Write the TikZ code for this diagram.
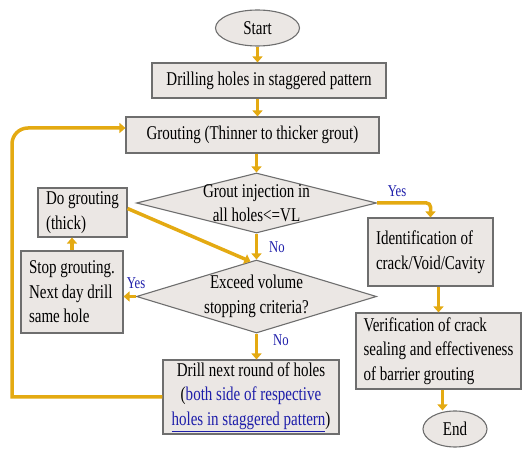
\documentclass[tikz,border=0pt]{standalone}
\usepackage{fontspec}
\setmainfont{Liberation Serif}[FakeStretch=0.77]
\usetikzlibrary{shapes.geometric,arrows.meta}
\definecolor{boxfill}{RGB}{235,231,228}
\definecolor{boxline}{RGB}{110,110,110}
\definecolor{arrgold}{RGB}{228,170,18}
\definecolor{lblue}{RGB}{30,30,170}
\begin{document}
\begin{tikzpicture}[x=1pt,y=-1pt,
  txt/.style={font=\fontsize{19.5}{24.5}\selectfont},
  box/.style={draw=boxline,fill=boxfill,line width=1.1pt,inner sep=0pt,txt},
  rbox/.style={box,rectangle},
  ebox/.style={box,ellipse},
  dbox/.style={box,diamond},
  arr/.style={draw=arrgold,line width=3.5pt,-{Triangle[width=10pt,length=6pt]}},
  lbl/.style={text=lblue,font=\fontsize{16.5}{19}\selectfont,inner sep=0pt}]
\useasboundingbox (0,0) rectangle (523,449);

\node[ebox,minimum width=84pt,minimum height=36pt] (start) at (257.5,28) {Start};
\node[rbox,minimum width=234pt,minimum height=35pt] (drill) at (269,80.5) {Drilling holes in staggered pattern};
\node[rbox,minimum width=253pt,minimum height=36pt] (grout) at (252.5,135) {Grouting (Thinner to thicker grout)};
\node[dbox,minimum width=240pt,minimum height=60pt] (d1) at (256.5,203) {};
\node[txt,align=center,inner sep=0pt] (d1t) at (d1) {Grout injection in\\all holes<=VL};
\node[rbox,minimum width=89pt,minimum height=49pt,align=left] (dog) at (82.5,212.5) {Do grouting\\(thick)};
\node[rbox,minimum width=102pt,minimum height=82pt,align=left] (stop) at (72,292) {Stop grouting.\\Next day drill\\same hole};
\node[dbox,minimum width=240pt,minimum height=73pt] (d2) at (256.5,296.5) {};
\node[txt,align=center,inner sep=0pt] (d2t) at (d2) {Exceed volume\\stopping criteria?};
\node[rbox,minimum width=176pt,minimum height=74pt,align=center] (dn) at (251,397) {Drill next round of holes\\(\textcolor{lblue}{both side of  respective}\\\textcolor{lblue}{\underline{holes in staggered pattern}})};
\node[rbox,minimum width=125pt,minimum height=68pt,align=left] (ident) at (430.5,252) {Identification of\\crack/Void/Cavity};
\node[rbox,minimum width=165pt,minimum height=76pt,align=left] (verif) at (438.5,351) {Verification of crack\\sealing and effectiveness\\of barrier grouting};
\node[ebox,minimum width=64pt,minimum height=36pt] (end) at (455,429) {End};

\node[lbl] (yes1) at (397,191) {Yes};
\node[lbl] (no1) at (277,247) {No};
\node[lbl] (yes2) at (136,283) {Yes};
\node[lbl] (no2) at (281,340) {No};

\coordinate (lpA) at (12,397);
\coordinate (lpB) at (12,128);

\draw[arr] (start.south) -- (start.south |- drill.north);
\draw[arr] (start.south |- drill.south) -- (start.south |- grout.north);
\draw[arr] (d1.north |- grout.south) -- (d1.north);
\draw[arr] (d1.south) -- (d2.north);
\draw[arr] (d2.south) -- (d2.south |- dn.north);
\draw[arr,rounded corners=4pt] (d1.east) -| (ident.north);
\draw[arr] (verif.north |- ident.south) -- (verif.north);
\draw[arr] ([xshift=4pt]verif.south) -- ([xshift=4pt]verif.south |- end.north);
\draw[arr] (d2.west) -- (d2.west -| stop.east);
\draw[arr] (stop.north) -- (stop.north |- dog.south);
\draw[arr] ([yshift=4pt]dog.east) -- ([xshift=-6pt,yshift=-2pt]d2.north);
\draw[arr] (dn.west) -- (lpA) [rounded corners=16pt] -- (lpB) -- (lpB -| grout.west);
\end{tikzpicture}
\end{document}
